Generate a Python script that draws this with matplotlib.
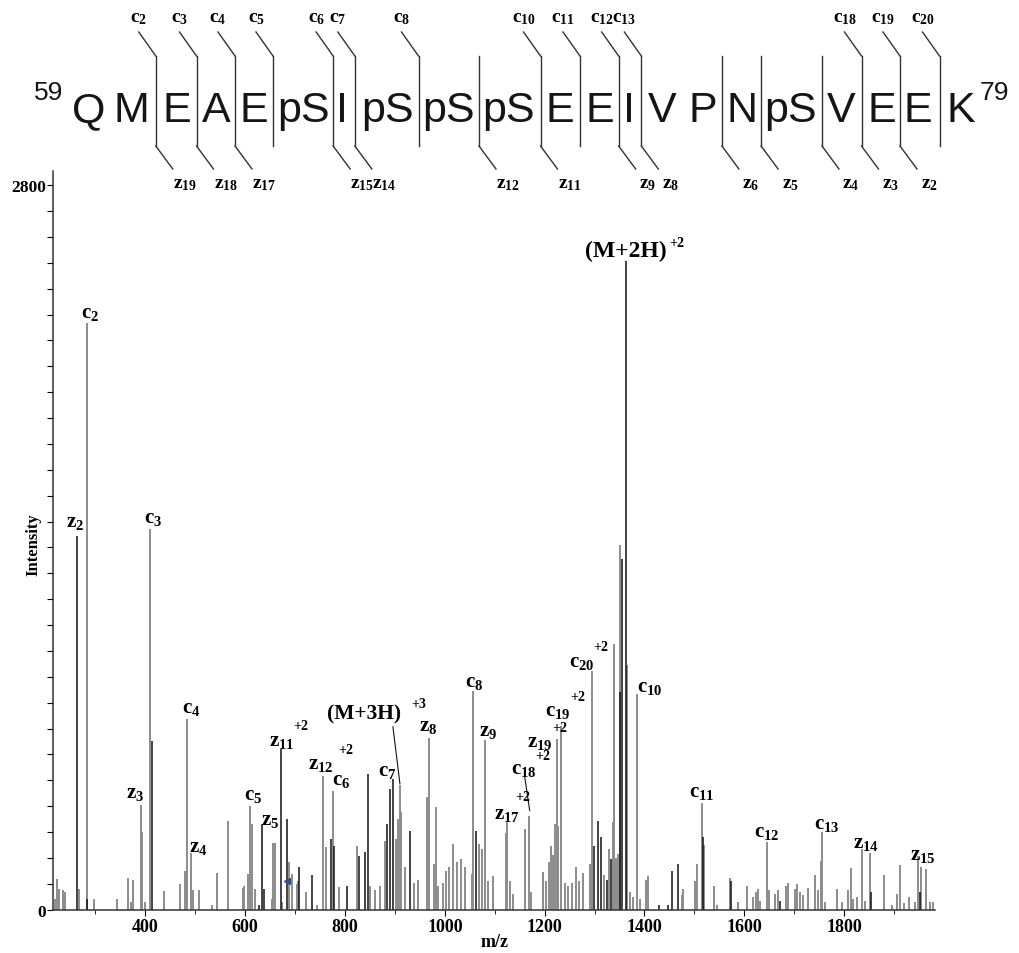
import matplotlib
matplotlib.use('Agg')
import matplotlib.pyplot as plt
from matplotlib.lines import Line2D

plt.rcParams['font.family'] = 'Liberation Serif'
plt.rcParams['font.weight'] = 'bold'
plt.rcParams['mathtext.fontset'] = 'custom'
plt.rcParams['mathtext.rm'] = 'Liberation Serif:bold'
plt.rcParams['mathtext.it'] = 'Liberation Serif:bold'
plt.rcParams['mathtext.bf'] = 'Liberation Serif:bold'

# пики, нарисованные чёрным
black_mz = [263, 284, 413, 628, 634, 637, 672, 684, 708, 734, 772, 778, 803, 828,
            840, 846, 884, 890, 896, 930, 1062, 1299, 1306, 1313, 1324, 1333,
            1350, 1355, 1362, 1430, 1448, 1456, 1468, 1518, 1573, 1671, 1853, 1951]
black_int = [1445, 40, 652, 20, 332, 80, 621, 351, 166, 134, 273, 248, 93, 206,
             222, 525, 331, 467, 505, 306, 306, 248, 344, 280, 115, 196,
             842, 1356, 2506, 20, 20, 150, 177, 280, 112, 35, 70, 70]

# пики, нарисованные серым
grey_mz = [220, 223, 227, 235, 239, 267, 283, 297, 344, 366, 372, 376, 391, 394,
           399, 409, 438, 469, 479, 483, 491, 495, 507, 534, 544, 566, 595, 598,
           606, 609, 613, 619, 653, 656, 659, 674, 688, 693, 704, 706, 721, 743,
           756, 762, 775, 788, 825, 850, 860, 871, 881, 903, 907, 910, 913, 920,
           939, 947, 964, 968, 978, 982, 987, 997, 1002, 1008, 1016, 1024, 1032,
           1040, 1054, 1056, 1068, 1074, 1080, 1086, 1097, 1122, 1125, 1130, 1137,
           1160, 1169, 1172, 1197, 1203, 1209, 1212, 1216, 1221, 1224, 1227, 1233,
           1241, 1247, 1255, 1262, 1269, 1277, 1291, 1295, 1318, 1329, 1336, 1339,
           1343, 1347, 1351, 1364, 1371, 1377, 1385, 1391, 1404, 1408, 1475, 1478,
           1501, 1505, 1515, 1520, 1539, 1545, 1571, 1588, 1605, 1618, 1623, 1627,
           1631, 1645, 1650, 1662, 1668, 1684, 1688, 1702, 1705, 1712, 1717, 1728,
           1742, 1748, 1753, 1756, 1762, 1786, 1795, 1807, 1814, 1817, 1825, 1836,
           1841, 1851, 1880, 1895, 1905, 1911, 1920, 1929, 1941, 1947, 1954, 1963,
           1972, 1977]
grey_int = [41, 118, 80, 77, 68, 80, 2268, 40, 40, 122, 30, 115, 406, 300,
            30, 1472, 74, 100, 148, 737, 219, 75, 75, 20, 140, 344, 85, 90,
            138, 400, 331, 80, 40, 256, 256, 30, 183, 138, 100, 110, 67, 20,
            518, 244, 460, 87, 248, 90, 75, 90, 267, 273, 351, 483, 377, 164,
            105, 115, 434, 663, 177, 396, 90, 105, 151, 166, 254, 183, 196,
            166, 138, 845, 254, 235, 657, 110, 130, 297, 344, 110, 60,
            312, 363, 70, 145, 110, 186, 248, 212, 331, 660, 325, 711,
            105, 90, 105, 164, 110, 140, 177, 924, 135, 235, 338, 1027,
            200, 215, 1410, 944, 70, 50, 834, 40, 115, 130, 55, 80,
            110, 177, 411, 250, 90, 20, 122, 30, 93, 50, 67, 80,
            35, 260, 78, 60, 78, 93, 103, 80, 100, 70, 55, 85,
            135, 78, 190, 299, 30, 80, 30, 78, 160, 40, 50, 235,
            35, 219, 135, 20, 60, 174, 25, 50, 30, 206, 166, 158,
            30, 30]

# подписи ионов: текст, m/z, интенсивность
ion_labels = [('$c_{2}$', 289, 2311), ('$z_{2}$', 259, 1503), ('$c_{3}$', 415, 1516),
              ('$c_{4}$', 491, 784), ('$z_{3}$', 379, 455), ('$z_{4}$', 505, 246),
              ('$c_{5}$', 615, 448), ('$z_{5}$', 650, 351), ('$z_{11}$', 672, 656),
              ('$z_{12}$', 752, 567), ('$c_{6}$', 792, 506), ('$c_{7}$', 884, 541),
              ('$z_{8}$', 966, 714), ('$c_{8}$', 1058, 884), ('$z_{9}$', 1086, 695),
              ('$z_{17}$', 1124, 374), ('$c_{18}$', 1158, 548), ('$z_{19}$', 1190, 653),
              ('$c_{19}$', 1227, 773), ('$c_{20}$', 1275, 962), ('$c_{10}$', 1411, 865),
              ('$c_{11}$', 1515, 459), ('$c_{12}$', 1645, 305), ('$c_{13}$', 1764, 336),
              ('$z_{14}$', 1844, 262), ('$z_{15}$', 1958, 216)]
charge_labels = [('+2', 712, 712), ('+2', 802, 620), ('+2', 1156, 436), ('+2', 1197, 597),
                 ('+2', 1231, 705), ('+2', 1267, 823), ('+2', 1313, 1018),
                 ('+2', 1465, 2578), ('+3', 948, 798)]
precursor_labels = [('(M+2H)', 1362, 2547, 17), ('(M+3H)', 838, 757, 15.5)]

# пептид
residues = ['Q', 'M', 'E', 'A', 'E', 'pS', 'I', 'pS', 'pS', 'pS', 'E', 'E', 'I',
            'V', 'P', 'N', 'pS', 'V', 'E', 'E', 'K']
c_ions = [2, 3, 4, 5, 6, 7, 8, 10, 11, 12, 13, 18, 19, 20]
z_ions = [19, 18, 17, 15, 14, 12, 11, 9, 8, 6, 5, 4, 3, 2]

W, H = 1019, 954
fig = plt.figure(figsize=(W / 100, H / 100), dpi=100)


def fx(x):
    return x / W


def fy(y):
    return 1 - y / H


ax = fig.add_axes([53 / W, fy(910.7), 882 / W, (910.7 - 172) / H])
ax.vlines(grey_mz, 0, grey_int, color='#8c8c8c', lw=1.4)
ax.vlines(black_mz, 0, black_int, color='#111111', lw=1.1)
ax.plot([684], [112], marker='<', ms=4, color='#2a4d8f', ls='none')

ax.set_xlim(215, 1982)
ax.set_ylim(0, 2855)
ax.spines['top'].set_visible(False)
ax.spines['right'].set_visible(False)
for s in ['left', 'bottom']:
    ax.spines[s].set_linewidth(1.1)
    ax.spines[s].set_color('#333333')
ax.set_xticks(range(400, 1801, 200))
ax.set_xticks(range(300, 1901, 200), minor=True)
ax.set_yticks(range(0, 2801, 100))
ax.set_yticklabels(['0'] + [''] * 27 + ['2800'])
ax.tick_params(axis='x', which='major', length=4, labelsize=13, pad=2)
ax.tick_params(axis='x', which='minor', length=3)
ax.tick_params(axis='y', length=4, labelsize=12.5, pad=1)

fig.text(fx(33), fy(545), 'Intensity', rotation=90, ha='center', va='center', fontsize=12)
fig.text(fx(495), fy(943), 'm/z', ha='center', va='center', fontsize=13)

for txt, mz, it in ion_labels:
    ax.text(mz, it, txt, ha='center', va='center', fontsize=15)
for txt, mz, it in charge_labels:
    ax.text(mz, it, txt, ha='center', va='center', fontsize=10)
for txt, mz, it, fs in precursor_labels:
    ax.text(mz, it, txt, ha='center', va='center', fontsize=fs)
ax.plot([896, 910], [707, 487], color='#111111', lw=0.8)
ax.plot([1160, 1170], [514, 383], color='#111111', lw=0.8)

# последовательность пептида сверху
res_x = [89, 131, 177, 216, 254, 304, 342, 388, 449, 509, 560, 600, 629, 662,
         703, 742, 791, 841, 882, 918, 961]
res_txt = []
for r, x in zip(residues, res_x):
    res_txt.append(fig.text(fx(x), fy(122), r, ha='center', va='baseline',
                            fontsize=31, family='Liberation Sans', weight='normal',
                            color='#151515'))
fig.text(fx(49), fy(100), '59', ha='center', va='baseline', fontsize=19,
         family='Liberation Sans', weight='normal', color='#151515')
fig.text(fx(994), fy(100), '79', ha='center', va='baseline', fontsize=19,
         family='Liberation Sans', weight='normal', color='#151515')

fig.canvas.draw()
rend = fig.canvas.get_renderer()
boxes = [t.get_window_extent(rend) for t in res_txt]

for n in sorted(set(c_ions) | set(len(residues) - z for z in z_ions)):
    # граница после n-го остатка
    x = (boxes[n - 1].x1 + boxes[n].x0) / 2
    line_kw = dict(color='#333333', lw=1.0, transform=None)
    fig.add_artist(Line2D([x, x], [H - 57, H - 147], **line_kw))
    if n in c_ions:
        fig.add_artist(Line2D([x - 17, x], [H - 33, H - 57], **line_kw))
        fig.text((x - 17) / W, fy(19), '$c_{%d}$' % n, ha='center', va='center', fontsize=14)
    if len(residues) - n in z_ions:
        fig.add_artist(Line2D([x, x + 17], [H - 147, H - 170], **line_kw))
        fig.text((x + 29) / W, fy(185), '$z_{%d}$' % (len(residues) - n),
                 ha='center', va='center', fontsize=14)

plt.savefig('out.png', dpi=100)
